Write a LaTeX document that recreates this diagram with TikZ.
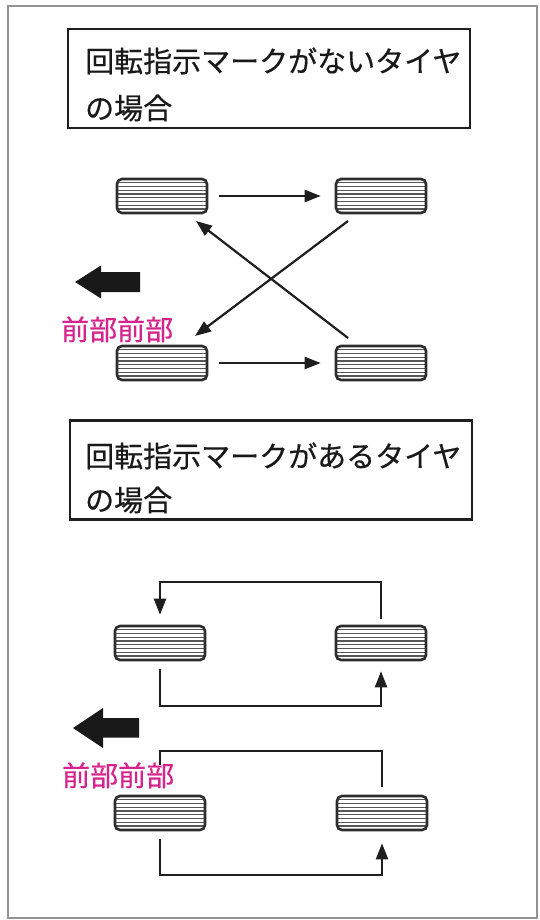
\documentclass[tikz,border=0pt]{standalone}
\usepackage{fontspec}
\setmainfont{Noto Sans CJK JP}
\newfontfamily\jpbold[FakeBold=0.5]{Noto Sans CJK JP}
\usetikzlibrary{arrows.meta,calc}
\definecolor{frontmag}{RGB}{214,36,140}
\definecolor{tirec}{RGB}{45,45,45}
\definecolor{linec}{RGB}{30,30,30}
\begin{document}
\begin{tikzpicture}[x=1pt,y=-1pt,
  tire/.style={draw=tirec,line width=2.6pt,rounded corners=5pt,minimum width=90pt,
    minimum height=34pt,inner sep=0pt,fill=white,
    path picture={
      \foreach \k in {1,...,8}{
        \draw[tirec!80,line width=1.4pt]
          ([yshift=-\k*3.75pt]path picture bounding box.north west) --
          ([yshift=-\k*3.75pt]path picture bounding box.north east);
      }
    }},
  titlebox/.style={draw=linec,line width=2.8pt,minimum width=402pt,minimum height=99pt,inner sep=0pt},
  titletext/.style={anchor=base west,inner sep=0pt,font=\jpbold\fontsize{29}{35}\selectfont,text=black!90},
  fronttext/.style={anchor=base west,inner sep=0pt,font=\jpbold\fontsize{28}{34}\selectfont,text=frontmag},
  arr/.style={draw=linec,line width=2.2pt,-{Triangle[length=16pt,width=12pt]}},
  plain/.style={draw=linec,line width=2.2pt},
  frontarrow/.style={fill=black!90}
]
\useasboundingbox (0,0) rectangle (540,920);
\draw[gray!85,line width=2.2pt] (8,6) rectangle (537,918);

% ---- upper section ----
\node[titlebox] (box1) at (269,78.5) {};
\node[titletext] (t1a) at (85,72) {回転指示マークがないタイヤ};
\node[titletext] (t1b) at (85,119) {の場合};

\node[tire] (TL) at (162,196) {};
\node[tire] (TR) at (381,196) {};
\node[tire] (BL) at (162,363) {};
\node[tire] (BR) at (381,363) {};

\draw[arr] ([xshift=11pt]TL.east) -- ([xshift=-14pt]TR.west);
\draw[arr] ([xshift=11pt]BL.east) -- ([xshift=-14pt]BR.west);
\draw[arr] ([shift={(-33,25)}]TR.center) -- ([shift={(33,-27)}]BL.center);
\draw[arr] ([shift={(-33,-25)}]BR.center) -- ([shift={(34,25)}]TL.center);

\fill[frontarrow] (75,282) -- (101,265.5) -- (101,272) -- (140,272) -- (140,292) -- (101,292) -- (101,298.5) -- cycle;
\node[fronttext] (f1) at (61,340) {前部前部};

% ---- lower section ----
\node[titlebox] (box2) at (271,470) {};
\node[titletext] (t2a) at (85,467) {回転指示マークがあるタイヤ};
\node[titletext] (t2b) at (85,511) {の場合};

\node[tire] (L1) at (160,643) {};
\node[tire] (R1) at (381,643) {};
\node[tire] (L2) at (160,813) {};
\node[tire] (R2) at (382,813) {};

\draw[arr] ($(R1.north)+(0,-6)$) -- ($(R1.north)+(0,-43)$) -| ($(L1.north)+(0,-10)$);
\draw[arr] ($(L1.south)+(0,8)$) -- ($(L1.south)+(0,45)$) -| ($(R1.south)+(0,10)$);

\draw[plain] ($(R2.north)+(0,-8)$) -- ($(R2.north)+(0,-44)$) -| ($(L2.north)+(0,-30)$);
\draw[arr] ($(L2.south)+(0,8)$) -- ($(L2.south)+(0,44)$) -| ($(R2.south)+(0,12)$);

\fill[frontarrow] (73,728) -- (103,708) -- (103,718) -- (139,718) -- (139,737.5) -- (103,737.5) -- (103,748) -- cycle;
\node[fronttext] (f2) at (62,786) {前部前部};
\end{tikzpicture}
\end{document}
